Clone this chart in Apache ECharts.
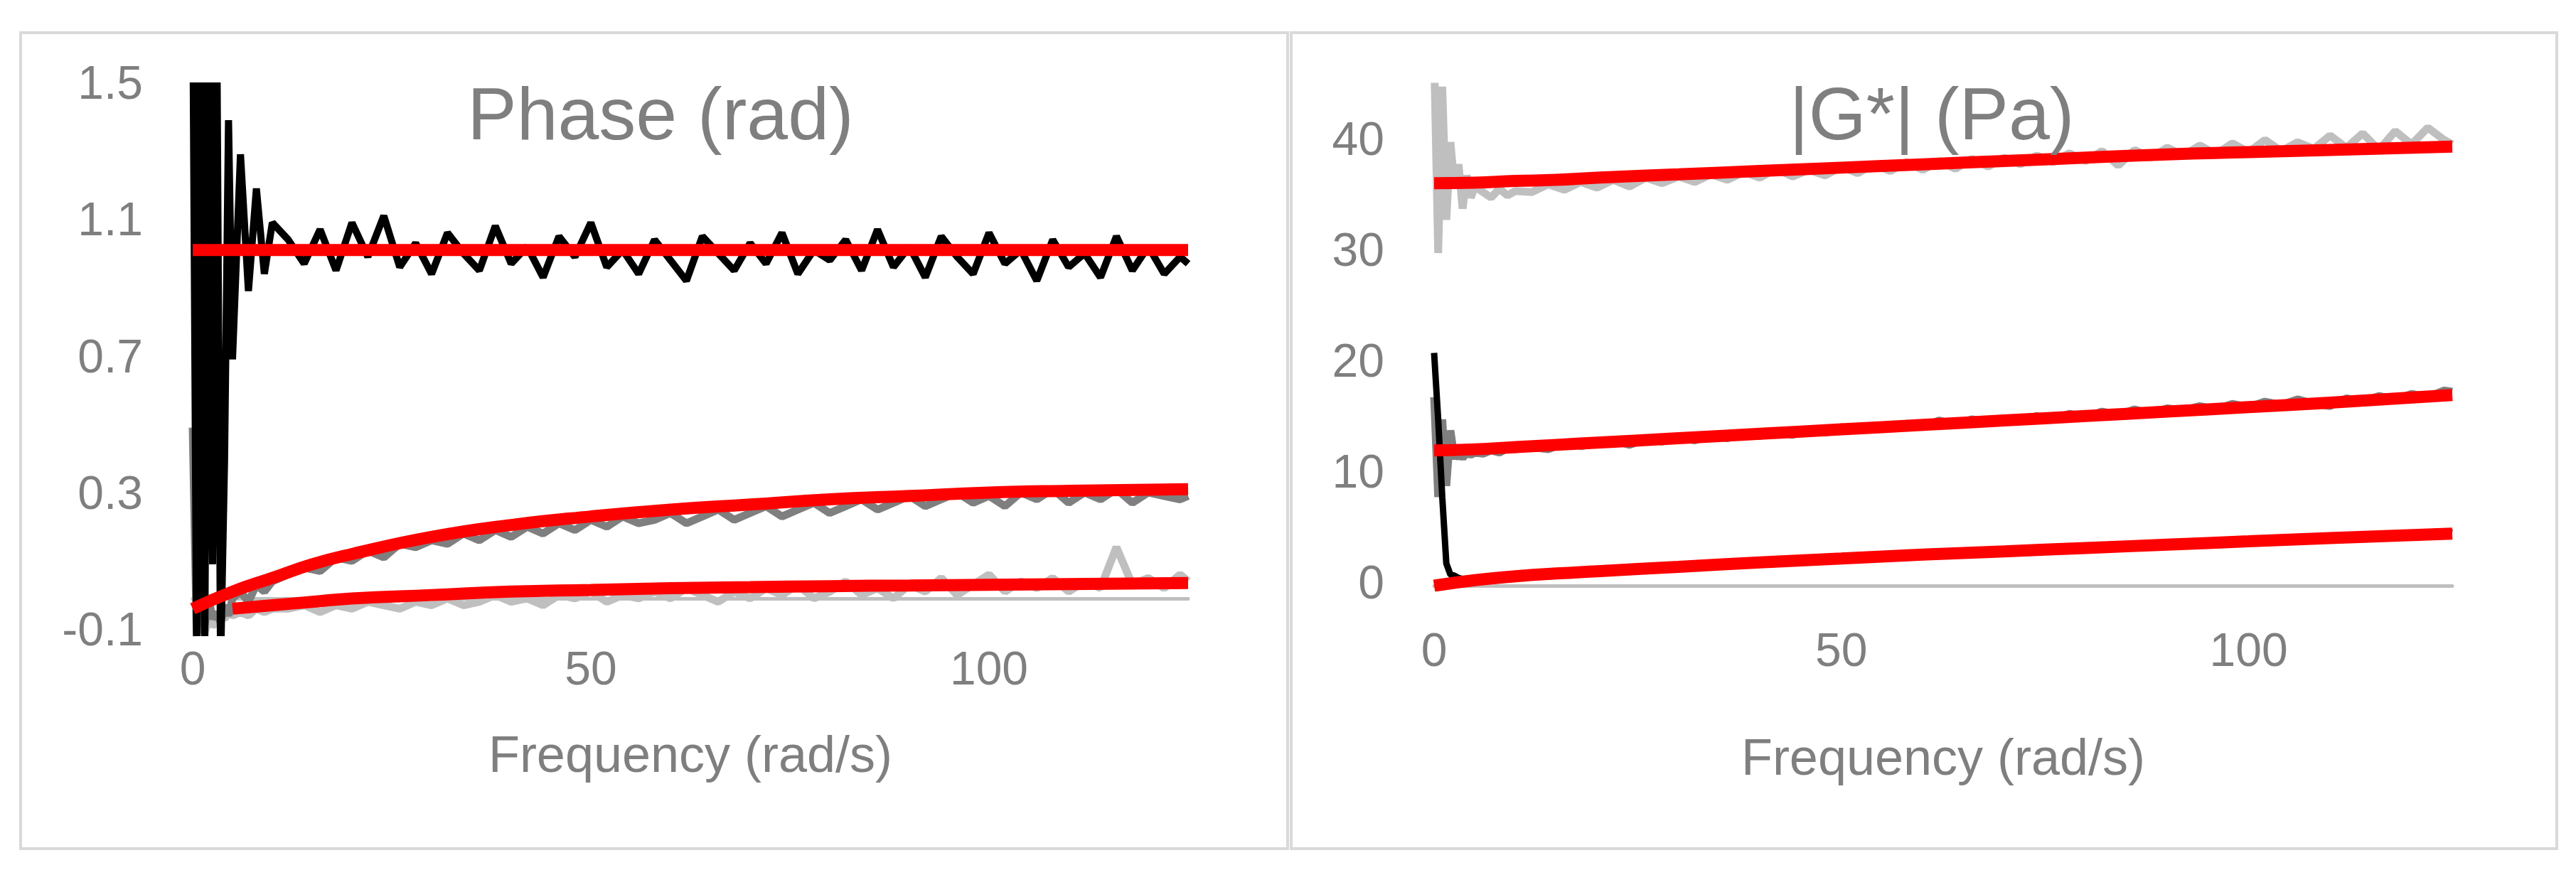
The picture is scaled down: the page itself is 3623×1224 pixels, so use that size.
<!DOCTYPE html>
<html>
<head>
<meta charset="utf-8">
<script src="https://cdn.jsdelivr.net/npm/echarts@6/dist/echarts.min.js"></script>
<style>
  html, body { margin: 0; padding: 0; background: #fff; }
  #main { width: 3623px; height: 1224px; }
</style>
</head>
<body>
<div id="main"></div>
<script>
// frequency grid of the measured curves (rad/s)
var freq = [0,0.5,1,1.5,2,2.5,3,3.5,4,4.5,5,6,7,8,9,10,
  12,14,16,18,20,22,24,26,28,30,32,34,36,38,40,42,44,46,48,50,52,54,56,58,60,
  62,64,66,68,70,72,74,76,78,80,82,84,86,88,90,92,94,96,98,100,102,104,106,108,110,
  112,114,116,118,120,122,124,125];
// frequency grid of the fitted curves
var fitFreq = [0,5,10,15,20,30,40,50,60,70,80,90,100,110,125];

// phase (rad)
var phaseBlack = [1.8,-0.2,1.9,-0.2,1.7,0.1,1.8,-0.2,0.4,1.4,0.7,1.3,0.9,1.2,0.95,1.1,
  1.05,0.98,1.08,0.96,1.10,1.00,1.12,0.97,1.04,0.95,
  1.07,1.01,0.96,1.09,0.98,1.03,0.94,1.06,1.00,1.10,
  0.97,1.02,0.95,1.05,0.99,0.93,1.06,1.01,0.96,1.04,
  0.98,1.07,0.95,1.02,0.99,1.05,0.96,1.08,0.97,1.03,
  0.94,1.06,1.00,0.95,1.07,0.98,1.02,0.93,1.05,0.97,
  1.01,0.94,1.06,0.96,1.03,0.95,1.00,0.98];
var phaseDark = [0.5,-0.1,0.3,-0.08,0.0,-0.06,-0.04,-0.07,-0.02,-0.05,0.0,0.02,-0.01,0.04,0.02,0.05,
  0.07,0.09,0.08,0.12,0.11,0.14,0.12,0.16,0.15,0.17,
  0.16,0.19,0.17,0.20,0.18,0.21,0.19,0.22,0.20,0.23,
  0.21,0.24,0.22,0.23,0.25,0.22,0.24,0.26,0.23,0.25,
  0.27,0.24,0.26,0.28,0.25,0.27,0.29,0.26,0.28,0.30,
  0.27,0.29,0.31,0.28,0.30,0.27,0.31,0.29,0.32,0.28,
  0.31,0.29,0.32,0.28,0.31,0.30,0.29,0.30];
var phaseLight = [-0.1,-0.1,-0.08,-0.1,-0.06,-0.08,-0.07,-0.05,-0.06,-0.04,-0.05,-0.04,-0.05,-0.03,-0.04,-0.03,
  -0.03,-0.02,-0.04,-0.02,-0.03,-0.01,-0.02,-0.03,-0.01,-0.02,
  0.00,-0.02,-0.01,0.01,-0.01,0.00,-0.02,0.01,0.00,0.02,
  -0.01,0.01,0.00,0.02,0.00,0.03,0.01,-0.01,0.02,0.00,
  0.03,0.01,0.04,0.00,0.02,0.05,0.01,0.03,0.00,0.04,
  0.02,0.06,0.01,0.04,0.07,0.02,0.05,0.03,0.06,0.02,
  0.05,0.03,0.15,0.04,0.06,0.03,0.07,0.05];
var phaseFitHigh = [1.02,1.02,1.02,1.02,1.02,1.02,1.02,1.02,1.02,1.02,1.02,1.02,1.02,1.02,1.02];
var phaseFitMid = [-0.03,0.02,0.06,0.10,0.13,0.18,0.215,0.24,0.26,0.275,0.29,0.30,0.31,0.315,0.32];
var phaseFitLow = [null,-0.03,-0.02,-0.01,0.0,0.01,0.02,0.025,0.03,0.033,0.036,0.038,0.04,0.042,0.045];

// |G*| (Pa)
var modLight = [48,30,45,33,40,36,38,34,37,35,36,35.5,35,35.8,35.2,35.6,
  35.5,36.2,35.7,36.4,35.9,36.6,36.0,36.8,36.3,36.9,
  36.4,37.1,36.6,37.3,36.8,37.6,36.9,37.5,37.0,37.8,
  37.2,38.0,37.4,38.2,37.5,38.3,37.6,38.5,37.8,38.6,
  38.0,38.8,38.2,39.0,38.3,39.2,37.9,39.3,38.6,39.5,
  38.8,39.7,38.9,39.9,39.1,40.2,39.2,40.0,39.4,40.6,
  39.5,40.8,39.3,41.0,39.8,41.3,40.2,39.8];
var modDark = [17,8,15,9,14,11.5,12,11.5,12,11.8,12,11.9,12.2,12.0,12.4,12.3,
  12.5,12.3,12.9,12.6,12.8,13.1,12.7,13.2,13.0,13.4,
  13.1,13.6,13.3,13.8,13.5,13.9,13.6,14.1,13.8,14.3,
  14.0,14.4,14.2,14.6,14.3,14.9,14.5,15.0,14.7,15.1,
  14.9,15.3,15.0,15.5,15.2,15.7,15.4,15.9,15.5,16.0,
  15.8,16.2,15.9,16.4,16.1,16.6,16.3,16.8,16.4,16.2,
  16.9,16.6,17.1,16.8,17.3,17.0,17.6,17.5];
var modBlack = [21,15,8,2,1,0.9,0.7,0.6,0.6,0.5,0.5,0.6,0.6,0.7,0.7,0.8,
  0.9,1.0,1.1,1.2,1.3,1.4,1.4,1.5,1.6,1.7,
  1.8,1.8,1.9,2.0,2.1,2.2,2.2,2.3,2.4,2.5,
  2.5,2.6,2.7,2.8,2.8,2.9,3.0,3.1,3.1,3.2,
  3.3,3.3,3.4,3.5,3.5,3.6,3.7,3.7,3.8,3.9,
  3.9,4.0,4.0,4.1,4.2,4.2,4.3,4.3,4.4,4.5,
  4.5,4.6,4.6,4.7,4.7,4.8,4.9,4.8];
var modFitLight = [36.3,36.35,36.5,36.6,36.8,37.1,37.4,37.7,38.0,38.3,38.6,38.9,39.1,39.3,39.6];
var modFitDark = [12.2,12.3,12.5,12.7,12.9,13.3,13.7,14.1,14.5,14.9,15.3,15.7,16.1,16.5,17.2];
var modFitBlack = [0,0.5,0.85,1.1,1.3,1.7,2.1,2.45,2.8,3.1,3.4,3.7,4.0,4.3,4.7];

var FONT = "'Liberation Sans', sans-serif";
var TXT = '#7f7f7f';

function pairs(xs, ys) {
  return xs.map(function (x, i) { return [x, ys[i]]; });
}
function line(data, color, width, idx, smooth) {
  return {
    type: 'line', xAxisIndex: idx, yAxisIndex: idx, data: data,
    showSymbol: false, smooth: !!smooth, clip: true, animation: false,
    lineStyle: { color: color, width: width }
  };
}
function xAx(idx, margin, gap) {
  return {
    type: 'value', gridIndex: idx, min: 0, max: 125, interval: 50,
    name: 'Frequency (rad/s)', nameLocation: 'middle', nameGap: gap,
    nameTextStyle: { color: TXT, fontSize: 72, fontFamily: FONT },
    axisLine: { onZero: true, lineStyle: { color: '#bfbfbf', width: 5 } },
    axisTick: { show: false }, splitLine: { show: false },
    axisLabel: { color: TXT, fontSize: 66, fontFamily: FONT, margin: margin,
      showMaxLabel: false }
  };
}

var chart = echarts.init(document.getElementById('main'));
chart.setOption({
  backgroundColor: '#fff',
  title: [
    { text: 'Phase (rad)', left: 924, top: 110, textAlign: 'center',
      textStyle: { color: TXT, fontSize: 104, fontWeight: 'normal', fontFamily: FONT } },
    { text: '|G*| (Pa)', left: 2712, top: 110, textAlign: 'center',
      textStyle: { color: TXT, fontSize: 104, fontWeight: 'normal', fontFamily: FONT } }
  ],
  graphic: [
    { type: 'rect', shape: { x: 29, y: 46, width: 1782, height: 1148 },
      style: { fill: 'none', stroke: '#d9d9d9', lineWidth: 4 } },
    { type: 'rect', shape: { x: 1816, y: 46, width: 1780, height: 1148 },
      style: { fill: 'none', stroke: '#d9d9d9', lineWidth: 4 } }
  ],
  grid: [
    { left: 271, top: 121, width: 1400, height: 769 },
    { left: 2017, top: 122, width: 1432, height: 702 }
  ],
  xAxis: [xAx(0, 22, 140), xAx(1, 62, 210)],
  yAxis: [
    { type: 'value', gridIndex: 0, min: -0.1, max: 1.5, interval: 0.4,
      axisLine: { show: false }, axisTick: { show: false }, splitLine: { show: false },
      axisLabel: { color: TXT, fontSize: 66, fontFamily: FONT, margin: 70,
        formatter: function (v) { return (Math.round(v * 10) / 10).toString(); } } },
    { type: 'value', gridIndex: 1, min: 0, max: 45, interval: 10,
      axisLine: { show: false }, axisTick: { show: false }, splitLine: { show: false },
      axisLabel: { color: TXT, fontSize: 66, fontFamily: FONT, margin: 70,
        showMaxLabel: false } }
  ],
  series: [
    line(pairs(freq, phaseLight), '#bfbfbf', 11, 0),
    line(pairs(freq, phaseDark), '#7f7f7f', 11, 0),
    line(pairs(freq, phaseBlack), '#000000', 10, 0),
    line(pairs(fitFreq, phaseFitHigh), '#ff0000', 17, 0, true),
    line(pairs(fitFreq, phaseFitMid), '#ff0000', 17, 0, true),
    line(pairs(fitFreq, phaseFitLow), '#ff0000', 17, 0, true),
    line(pairs(freq, modLight), '#bfbfbf', 11, 1),
    line(pairs(freq, modDark), '#7f7f7f', 11, 1),
    line(pairs(freq, modBlack), '#000000', 9, 1),
    line(pairs(fitFreq, modFitLight), '#ff0000', 17, 1, true),
    line(pairs(fitFreq, modFitDark), '#ff0000', 17, 1, true),
    line(pairs(fitFreq, modFitBlack), '#ff0000', 17, 1, true)
  ]
});
</script>
</body>
</html>
